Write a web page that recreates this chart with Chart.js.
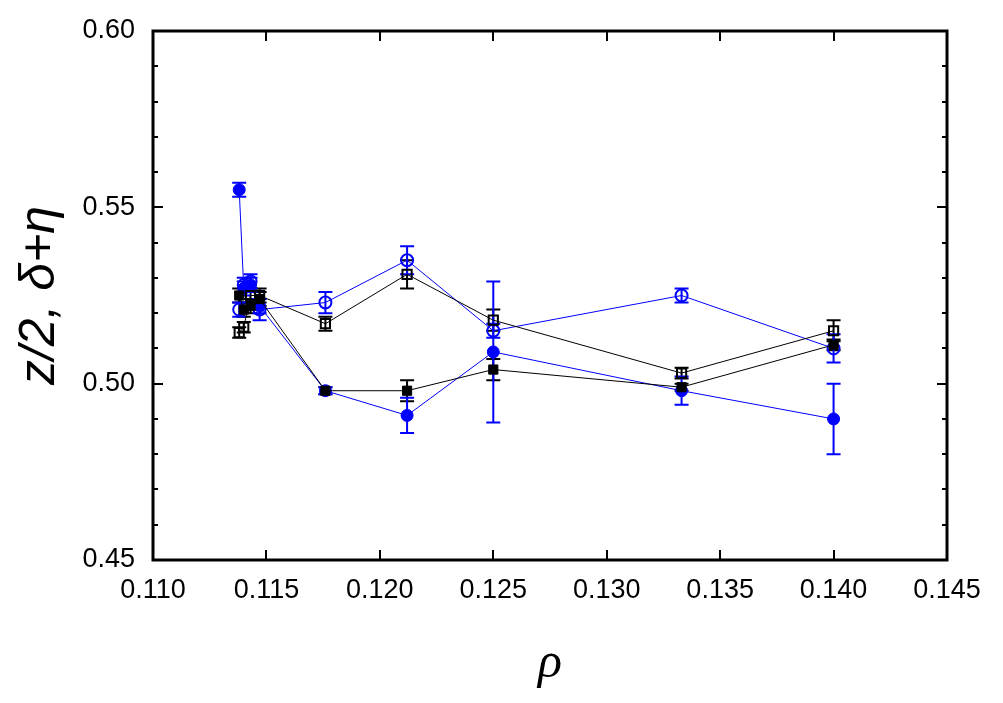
<!DOCTYPE html>
<html>
<head>
<meta charset="utf-8">
<script src="https://cdn.jsdelivr.net/npm/chart.js@4.4.1/dist/chart.umd.min.js"></script>
<style>
  html, body { margin: 0; padding: 0; background: #fff; }
  #wrap { width: 1003px; height: 703px; }
</style>
</head>
<body>
<div id="wrap"><canvas id="chart"></canvas></div>
<script>
// densidades (eje x)
const rho = [0.1138, 0.1140, 0.1143, 0.1147, 0.1176, 0.1212, 0.1250, 0.1333, 0.1400];

// series azules
const blueFilled    = [0.555, 0.527, 0.528, 0.522, 0.498, 0.491, 0.509, 0.498, 0.490];
const blueFilledErr = [0.002, 0.002, 0.002, 0.002, 0.001, 0.005, 0.020, 0.004, 0.010];
const blueOpen      = [0.521, 0.528, 0.529, 0.521, 0.523, 0.535, 0.515, 0.525, 0.510];
const blueOpenErr   = [0.002, 0.002, 0.002, 0.003, 0.003, 0.004, 0.002, 0.002, 0.004];

// series negras
const blackOpen      = [0.5145, 0.516, 0.525, 0.525, 0.517, 0.531, 0.518, 0.503, 0.515];
const blackOpenErr   = [0.0015, 0.0015, 0.002, 0.002, 0.002, 0.004, 0.003, 0.0015, 0.003];
const blackFilled    = [0.525, 0.521, 0.522, 0.524, 0.498, 0.498, 0.504, 0.499, 0.511];
const blackFilledErr = [0.002, 0.002, 0.002, 0.002, 0.001, 0.003, 0.003, 0.001, 0.0015];

// ejes
const xTicks = [0.110, 0.115, 0.120, 0.125, 0.130, 0.135, 0.140, 0.145];
const yTicks = [0.45, 0.50, 0.55, 0.60];

const BLUE = '#0000ff';
const BLACK = '#000000';

function pts(ys) {
    return rho.map((x, i) => ({ x: x, y: ys[i] }));
}

function serie(ys, errs, color, style, filled) {
    return {
        data: pts(ys),
        errors: errs,
        showLine: true,
        borderColor: color,
        borderWidth: 1,
        pointStyle: style,
        pointRadius: style === 'rect' ? 6.5 : 6,
        pointHoverRadius: style === 'rect' ? 6.5 : 6,
        pointBorderColor: color,
        pointBorderWidth: filled ? 1 : 2,
        pointBackgroundColor: filled ? color : 'rgba(0,0,0,0)'
    };
}

// barras de error, dibujadas con las escalas del gráfico
const errorBars = {
    id: 'errorBars',
    beforeDatasetsDraw(chart) {
        const ctx = chart.ctx;
        const xs = chart.scales.x, ys = chart.scales.y;
        chart.data.datasets.forEach(ds => {
            ctx.save();
            ctx.strokeStyle = ds.borderColor;
            ctx.lineWidth = 2;
            ds.data.forEach((p, i) => {
                const e = ds.errors[i];
                const px = xs.getPixelForValue(p.x);
                const top = ys.getPixelForValue(p.y + e);
                const bot = ys.getPixelForValue(p.y - e);
                ctx.beginPath();
                ctx.moveTo(px, top); ctx.lineTo(px, bot);
                ctx.moveTo(px - 7, top); ctx.lineTo(px + 7, top);
                ctx.moveTo(px - 7, bot); ctx.lineTo(px + 7, bot);
                ctx.stroke();
            });
            ctx.restore();
        });
    }
};

// marco y marcas hacia adentro
const frame = {
    id: 'frame',
    afterDraw(chart) {
        const { ctx, chartArea: a } = chart;
        const xs = chart.scales.x, ys = chart.scales.y;
        ctx.save();
        ctx.strokeStyle = '#000';
        ctx.lineWidth = 2;
        xs.ticks.forEach(t => {
            const px = Math.round(xs.getPixelForValue(t.value));
            ctx.beginPath();
            ctx.moveTo(px, a.bottom); ctx.lineTo(px, a.bottom - 10);
            ctx.moveTo(px, a.top); ctx.lineTo(px, a.top + 10);
            ctx.stroke();
        });
        ys.ticks.forEach(t => {
            const py = Math.round(ys.getPixelForValue(t.value));
            const major = Math.abs(Math.round(t.value * 100) % 5) === 0;
            const len = major ? 10 : 5;
            ctx.beginPath();
            ctx.moveTo(a.left, py); ctx.lineTo(a.left + len, py);
            ctx.moveTo(a.right, py); ctx.lineTo(a.right - len, py);
            ctx.stroke();
        });
        ctx.lineWidth = 3;
        ctx.strokeRect(a.left, a.top, a.right - a.left, a.bottom - a.top);
        ctx.restore();
    }
};

const tickFont = { family: "'Liberation Sans', Arial, sans-serif", size: 27 };

new Chart(document.getElementById('chart'), {
    type: 'scatter',
    data: {
        datasets: [
            serie(blackOpen, blackOpenErr, BLACK, 'rect', false),
            serie(blackFilled, blackFilledErr, BLACK, 'rect', true),
            serie(blueOpen, blueOpenErr, BLUE, 'circle', false),
            serie(blueFilled, blueFilledErr, BLUE, 'circle', true)
        ]
    },
    options: {
        responsive: true,
        maintainAspectRatio: false,
        animation: false,
        layout: { padding: { top: 31, right: 56, left: 0, bottom: 0 } },
        plugins: {
            legend: { display: false },
            tooltip: { enabled: false }
        },
        scales: {
            x: {
                type: 'linear',
                min: xTicks[0],
                max: xTicks[xTicks.length - 1],
                grid: { display: false },
                border: { display: false },
                afterFit(scale) { scale.height = 143; },
                ticks: {
                    stepSize: 0.005,
                    autoSkip: false,
                    maxRotation: 0,
                    padding: 6,
                    color: '#000',
                    font: tickFont,
                    callback: v => v.toFixed(3)
                },
                title: {
                    display: true,
                    text: 'ρ',
                    color: '#000',
                    font: { family: "'Liberation Serif', 'Times New Roman', serif", size: 50, style: 'italic' },
                    padding: { bottom: 9 }
                }
            },
            y: {
                type: 'linear',
                min: yTicks[0],
                max: yTicks[yTicks.length - 1],
                grid: { display: false },
                border: { display: false },
                afterFit(scale) { scale.width = 153; },
                ticks: {
                    stepSize: 0.01,
                    autoSkip: false,
                    padding: 10,
                    color: '#000',
                    font: tickFont,
                    callback: v => (Math.abs(Math.round(v * 100) % 5) === 0 ? v.toFixed(2) : '')
                },
                title: {
                    display: true,
                    text: 'z/2, δ+η',
                    color: '#000',
                    font: { family: "'Liberation Sans', Arial, sans-serif", size: 50, style: 'italic' },
                    padding: { top: 10 }
                }
            }
        }
    },
    plugins: [errorBars, frame]
});
</script>
</body>
</html>
